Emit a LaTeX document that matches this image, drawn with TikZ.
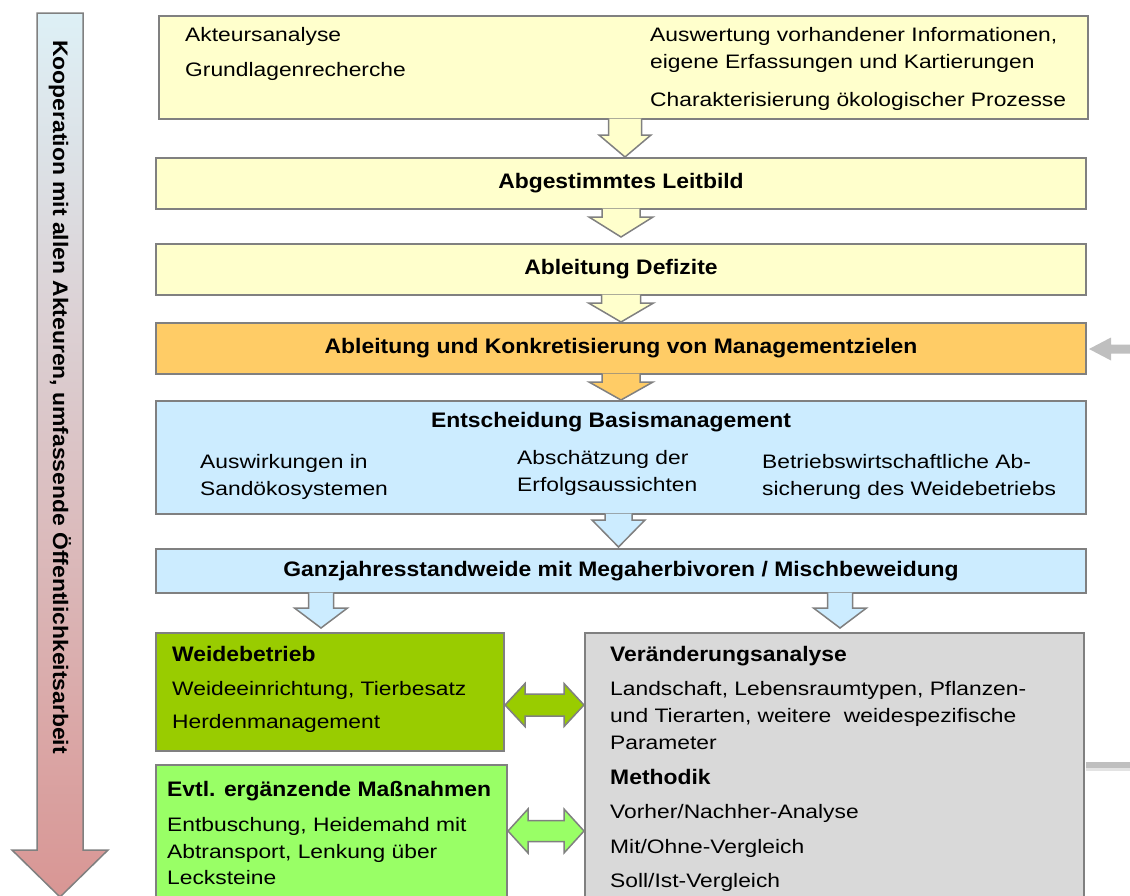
\documentclass[tikz,border=0pt]{standalone}
\usepackage{fontspec}
\setmainfont{Liberation Sans}
\newfontfamily\rfam{Liberation Sans}[FakeStretch=1.17]
\newfontfamily\bfam{Liberation Sans}[FakeStretch=1.09]
\usetikzlibrary{calc}
\definecolor{ylw}{HTML}{FFFFCC}
\definecolor{org}{HTML}{FFCC66}
\definecolor{blu}{HTML}{CCECFF}
\definecolor{grn}{HTML}{99CC00}
\definecolor{lgrn}{HTML}{99FF66}
\definecolor{gry}{HTML}{D9D9D9}
\definecolor{edge}{HTML}{808080}
\definecolor{fb}{HTML}{BFBFBF}
\definecolor{fbl}{HTML}{E3E3E3}
\definecolor{atop}{HTML}{DDF0F6}
\definecolor{abot}{HTML}{D99694}
\tikzset{
  box/.style={draw=edge, line width=2pt, inner sep=0pt, anchor=north west,
    font=\bfam\bfseries\fontsize{21}{25}\selectfont},
  rt/.style={anchor=base west, inner sep=0pt, font=\rfam\fontsize{19.5}{24}\selectfont},
  bt/.style={anchor=base west, inner sep=0pt, font=\bfam\bfseries\fontsize{21}{25}\selectfont},
  barrow/.style={draw=edge, line width=1.5pt, line join=miter},
}
% down block arrow: #1 from, #2 to, #3 x, #4 shaft hw, #5 head hw, #6 head len, #7 gap, #8 fill
\newcommand\dnarrow[8]{%
  \draw[barrow, fill=#8] let \p1=(#1.south), \p2=(#2.north) in
    (#3pt-#4pt, \y1+1.5pt) -- (#3pt-#4pt, \y2+#7pt+#6pt) -- (#3pt-#5pt, \y2+#7pt+#6pt)
    -- (#3pt, \y2+#7pt) -- (#3pt+#5pt, \y2+#7pt+#6pt) -- (#3pt+#4pt, \y2+#7pt+#6pt)
    -- (#3pt+#4pt, \y1+1.5pt);
}
% double horizontal block arrow: #1 left node, #2 right node, #3 y, #4 shaft hh, #5 head hh, #6 head len, #7 fill
\newcommand\lrarrow[7]{%
  \draw[barrow, fill=#7] let \p1=(#1.east), \p2=(#2.west) in
    (\x1, -#3pt) -- (\x1+#6pt, -#3pt+#5pt) -- (\x1+#6pt, -#3pt+#4pt)
    -- (\x2-#6pt, -#3pt+#4pt) -- (\x2-#6pt, -#3pt+#5pt) -- (\x2, -#3pt)
    -- (\x2-#6pt, -#3pt-#5pt) -- (\x2-#6pt, -#3pt-#4pt) -- (\x1+#6pt, -#3pt-#4pt)
    -- (\x1+#6pt, -#3pt-#5pt) -- cycle;
}
\begin{document}
\begin{tikzpicture}[x=1pt, y=-1pt]
\useasboundingbox (0,0) rectangle (1130,895);

% left big arrow
\shadedraw[top color=atop, bottom color=abot, draw=edge, line width=1.5pt]
  (37,13) -- (83,13) -- (83,850) -- (108,850) -- (60,897) -- (12,850) -- (37,850) -- cycle;
\node[rotate=-90, anchor=base, inner sep=0pt, font=\bfam\bfseries\fontsize{21}{25}\selectfont]
  (koop) at (53,397) {Kooperation mit allen Akteuren, umfassende Öffentlichkeitsarbeit};

% boxes
\node[box, fill=ylw, minimum width=929, minimum height=103] (b1) at (158,15) {};
\node[box, fill=ylw, minimum width=930, minimum height=51] (b2) at (155,157) {Abgestimmtes Leitbild};
\node[box, fill=ylw, minimum width=930, minimum height=51] (b3) at (155,243) {Ableitung Defizite};
\node[box, fill=org, minimum width=930, minimum height=51] (b4) at (155,322) {Ableitung und Konkretisierung von Managementzielen};
\node[box, fill=blu, minimum width=930, minimum height=113] (b5) at (155,400) {};
\node[box, fill=blu, minimum width=930, minimum height=44] (b6) at (155,548) {Ganzjahresstandweide mit Megaherbivoren / Mischbeweidung};
\node[box, fill=grn, minimum width=348, minimum height=118] (wb) at (155,632) {};
\node[box, fill=lgrn, minimum width=351, minimum height=150] (ev) at (155,764) {};
\node[box, fill=gry, minimum width=499, minimum height=280] (ga) at (584,632) {};

% texts box 1
\node[rt] (t11) at (185,41.5) {Akteursanalyse};
\node[rt] (t12) at (185,76) {Grundlagenrecherche};
\node[rt] (t13) at (650,41.5) {Auswertung vorhandener Informationen,};
\node[rt] (t14) at (650,68.5) {eigene Erfassungen und Kartierungen};
\node[rt] (t15) at (650,106.5) {Charakterisierung ökologischer Prozesse};

% texts box 5
\node[bt, anchor=base] (t50) at (611,427.5) {Entscheidung Basismanagement};
\node[rt] (t51) at (200,468.5) {Auswirkungen in};
\node[rt] (t52) at (200,495.5) {Sandökosystemen};
\node[rt] (t53) at (517,464.5) {Abschätzung der};
\node[rt] (t54) at (517,491.5) {Erfolgsaussichten};
\node[rt] (t55) at (762,468.5) {Betriebswirtschaftliche Ab-};
\node[rt] (t56) at (762,495.5) {sicherung des Weidebetriebs};

% Weidebetrieb
\node[bt] (w0) at (172,661.5) {Weidebetrieb};
\node[rt] (w1) at (172,695.5) {Weideeinrichtung, Tierbesatz};
\node[rt] (w2) at (172,728.5) {Herdenmanagement};

% Evtl
\node[bt] (e0) at (167,796.5) {Evtl. ergänzende Maßnahmen};
\node[rt] (e1) at (167,831.5) {Entbuschung, Heidemahd mit};
\node[rt] (e2) at (167,858.5) {Abtransport, Lenkung über};
\node[rt] (e3) at (167,884.5) {Lecksteine};

% gray
\node[bt] (g0) at (610,661.5) {Veränderungsanalyse};
\node[rt] (g1) at (610,695.5) {Landschaft, Lebensraumtypen, Pflanzen-};
\node[rt] (g2) at (610,722.5) {und Tierarten, weitere\ \ weidespezifische};
\node[rt] (g3) at (610,749.5) {Parameter};
\node[bt] (g4) at (610,784.5) {Methodik};
\node[rt] (g5) at (610,818.5) {Vorher/Nachher-Analyse};
\node[rt] (g6) at (610,853.5) {Mit/Ohne-Vergleich};
\node[rt] (g7) at (610,887.5) {Soll/Ist-Vergleich};

% down arrows
\dnarrow{b1}{b2}{625}{16.5}{26}{22}{0}{ylw}
\dnarrow{b2}{b3}{621}{19}{32}{20}{6}{ylw}
\dnarrow{b3}{b4}{621}{19.5}{32.5}{19}{0}{ylw}
\dnarrow{b4}{b5}{621}{19}{32}{18}{0}{org}
\dnarrow{b5}{b6}{618.5}{13.5}{26.5}{27}{1}{blu}
\dnarrow{b6}{wb}{321}{12.5}{26.5}{20}{4}{blu}
\dnarrow{b6}{ga}{840}{12.5}{26.5}{20}{4}{blu}

% double arrows
\lrarrow{wb}{ga}{705}{11}{21.5}{20}{grn}
\lrarrow{ev}{ga}{831}{10.5}{22}{20}{lgrn}

% feedback arrow into b4 and line out of ga
\coordinate (fbin) at (1130,349);
\fill[fb] let \p1=(b4.east), \p2=(fbin) in
  (\x1+2pt,\y2) -- (\x1+24pt,\y2+11.5pt) -- (\x1+24pt,\y2+4.5pt) -- (\x2,\y2+4.5pt)
  -- (\x2,\y2-4.5pt) -- (\x1+24pt,\y2-4.5pt) -- (\x1+24pt,\y2-11.5pt) -- cycle;
\coordinate (fbout) at (1130,765);
\draw[fb, line width=6pt] (ga.east |- fbout) ++(1,0) -- (fbout);
\draw[fbl, line width=3pt] (ga.east |- fbout) ++(1,4.5) -- ($(fbout)+(0,4.5)$);
\end{tikzpicture}
\end{document}
